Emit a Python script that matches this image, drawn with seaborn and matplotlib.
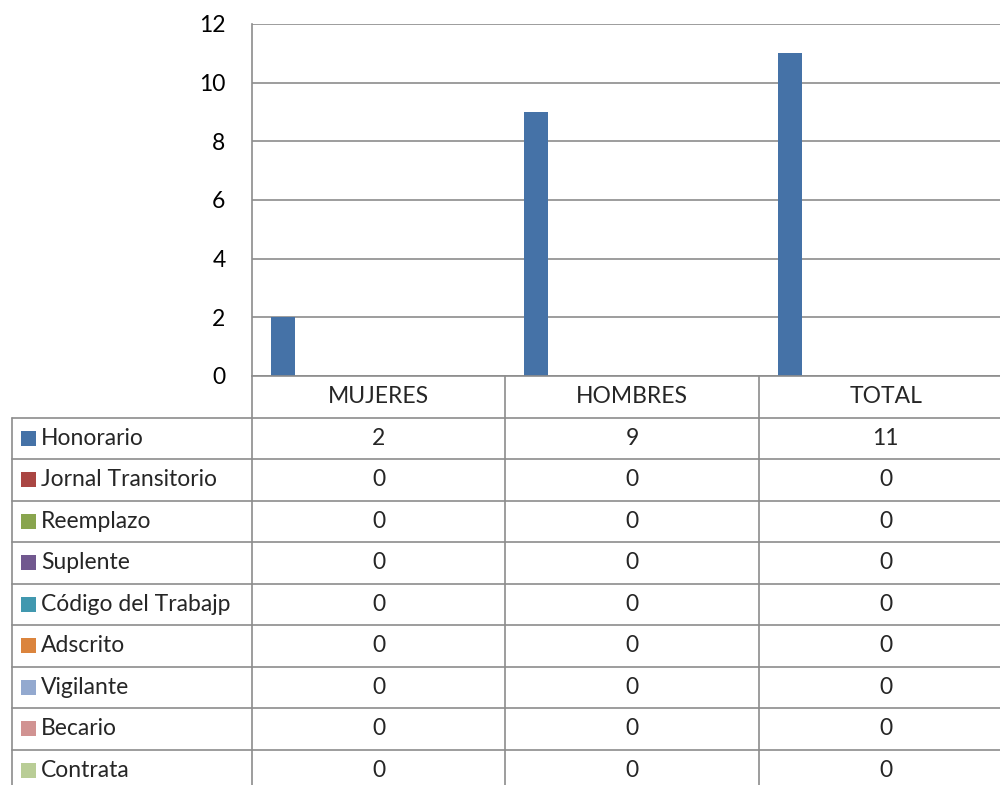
import pandas as pd
import seaborn as sns
import matplotlib.pyplot as plt
from matplotlib.lines import Line2D
from matplotlib.patches import Rectangle

# datos
categories = ['MUJERES', 'HOMBRES', 'TOTAL']
series = ['Honorario', 'Jornal Transitorio', 'Reemplazo', 'Suplente',
          'Código del Trabajp', 'Adscrito', 'Vigilante', 'Becario', 'Contrata']
honorario = [2, 9, 11]
jornal = [0, 0, 0]
reemplazo = [0, 0, 0]
suplente = [0, 0, 0]
codigo = [0, 0, 0]
adscrito = [0, 0, 0]
vigilante = [0, 0, 0]
becario = [0, 0, 0]
contrata = [0, 0, 0]
values = [honorario, jornal, reemplazo, suplente, codigo,
          adscrito, vigilante, becario, contrata]
colors = ['#4572A7', '#AA4643', '#89A54E', '#71588F', '#4198AF',
          '#DB843D', '#93A9CF', '#D19392', '#B9CD96']
yticks = [0, 2, 4, 6, 8, 10, 12]

rows = []
for s, vals in zip(series, values):
    for c, v in zip(categories, vals):
        rows.append({'serie': s, 'grupo': c, 'valor': v})
df = pd.DataFrame(rows)

sns.set_style('white')
plt.rcParams['font.family'] = ['Lato', 'DejaVu Sans']
FS = 16.5
GRID = '#8C8C8C'

W, H = 1000, 785
fig = plt.figure(figsize=(10, 7.85), dpi=100)


def fx(x):
    return x / W


def fy(y):
    return 1 - y / H


# grafico de barras
ax = fig.add_axes([fx(252), fy(376), 760 / W, 352 / H])
sns.barplot(data=df, x='grupo', y='valor', hue='serie', order=categories,
            hue_order=series, palette=colors, saturation=1, width=0.85,
            linewidth=0, legend=False, ax=ax)
ax.set_xlim(-0.5, 2.5)
ax.set_ylim(0, 12)
ax.set_yticks(yticks)
ax.set_yticklabels([str(t) for t in yticks], fontsize=FS, color='black')
ax.tick_params(axis='y', length=0, pad=19)
ax.set_xticks([])
ax.set_xlabel('')
ax.set_ylabel('')
ax.set_axisbelow(True)
ax.yaxis.grid(True, color=GRID, linewidth=1.2)
for sp in ['top', 'right', 'bottom']:
    ax.spines[sp].set_visible(False)
ax.spines['left'].set_color(GRID)
ax.spines['left'].set_linewidth(1.2)


def line(x0, y0, x1, y1):
    fig.add_artist(Line2D([fx(x0), fx(x1)], [fy(y0), fy(y1)],
                          transform=fig.transFigure, color=GRID, linewidth=1.2))


# tabla de datos
col_x = [12, 252, 505.5, 759, 1012.5]
top = 376
head_h = 41.5
row_h = 41.5
bottom = top + head_h + row_h * len(series)

line(252, top, 1012.5, top)
for i in range(len(series) + 1):
    y = top + head_h + row_h * i
    line(12, y, 1012.5, y)
line(12, top + head_h, 12, bottom)
line(252, top, 252, bottom)
for x in col_x[2:]:
    line(x, top, x, bottom)

for j, c in enumerate(categories):
    xc = (col_x[j + 1] + col_x[j + 2]) / 2
    fig.text(fx(xc), fy(top + head_h / 2), c, ha='center', va='center', fontsize=FS)

for i, (s, vals) in enumerate(zip(series, values)):
    yc = top + head_h + row_h * i + row_h / 2
    fig.add_artist(Rectangle((fx(21), fy(yc + 7.5)), 15 / W, 15 / H,
                             transform=fig.transFigure, color=colors[i], linewidth=0))
    fig.text(fx(41), fy(yc), s, ha='left', va='center', fontsize=FS)
    for j, v in enumerate(vals):
        xc = (col_x[j + 1] + col_x[j + 2]) / 2
        fig.text(fx(xc), fy(yc), str(v), ha='center', va='center', fontsize=FS)

fig.savefig('out.png', dpi=100)
